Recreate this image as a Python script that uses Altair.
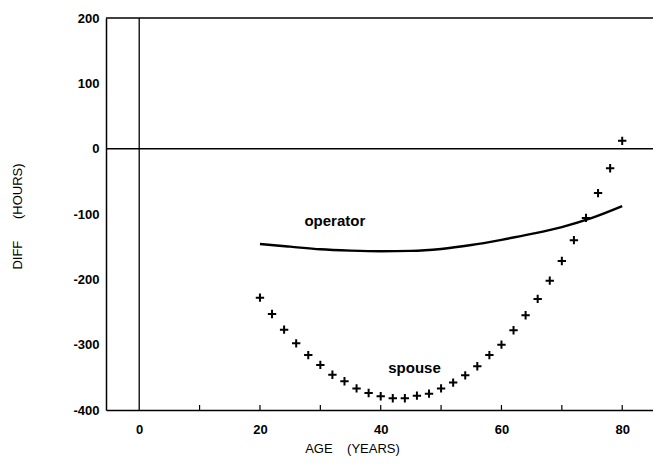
import altair as alt
import pandas as pd

# ---- data ----
spouse_age = list(range(20, 81, 2))
spouse_diff = [-228, -253, -277, -298, -316, -331, -346, -356, -367, -374,
               -379, -382, -382, -378, -375, -367, -358, -347, -333, -316,
               -300, -278, -255, -230, -202, -172, -140, -106, -68, -30, 12]

operator_age = [20, 25, 30, 35, 40, 45, 50, 55, 60, 65, 70, 75, 80]
operator_diff = [-146, -150, -154, -156, -157, -156.5, -153.5, -147.5, -139.5, -130.5, -120, -106, -88]

label_text = ["operator", "spouse"]
label_x = [32.4, 45.6]
label_y = [-110, -335]

x_label_values = [0, 20, 40, 60, 80]
x_tick_values = [10, 20, 30, 40, 50, 60, 70, 80]
y_tick_values = [-400, -300, -200, -100, 0, 100, 200]

X_DOMAIN = [-5.5, 85.1]
Y_DOMAIN = [-400, 200]
W, H = 547, 392
FONT = "Liberation Sans"

spouse_df = pd.DataFrame({"age": spouse_age, "diff": spouse_diff})
op_df = pd.DataFrame({"age": operator_age, "diff": operator_diff})
lab_df = pd.DataFrame({"label": label_text, "age": label_x, "diff": label_y})
ticks_df = pd.DataFrame({"age": x_tick_values})

xs = alt.Scale(domain=X_DOMAIN, nice=False, zero=False)
ys = alt.Scale(domain=Y_DOMAIN, nice=False, zero=False)

x_axis = alt.Axis(
    title="AGE\u00a0\u00a0\u00a0\u00a0(YEARS)", values=x_label_values, ticks=False, grid=False,
    domainColor="black", domainWidth=1.5, labelPadding=13, labelFontSize=13,
    labelFontWeight="bold", labelExpr="'' + datum.value",
    labelFont=FONT, labelColor="black", titleFont=FONT, titleFontSize=13,
    titleFontWeight="normal", titleColor="black", titleX=246, titleY=38,
    titleBaseline="middle", titleAnchor="start", titleAlign="center",
)
y_axis = alt.Axis(
    title="DIFF\u00a0\u00a0\u00a0\u00a0\u00a0\u00a0(HOURS)", values=y_tick_values, ticks=False, grid=False,
    domainColor="black", domainWidth=1.5, labelPadding=7, labelFontSize=13,
    labelFontWeight="bold", labelExpr="'' + datum.value",
    labelFont=FONT, labelColor="black", titleFont=FONT, titleFontSize=13,
    titleFontWeight="normal", titleColor="black", titleX=-89, titleY=198,
    titleAngle=-90, titleBaseline="middle", titleAlign="center", titleAnchor="start",
)

base_x = alt.X("age:Q", scale=xs, axis=x_axis)
base_y = alt.Y("diff:Q", scale=ys, axis=y_axis)

points = alt.Chart(spouse_df).mark_point(
    shape="M-1,0L1,0M0,-1L0,1", size=70, filled=False, color="black",
    strokeWidth=2, opacity=1, clip=False,
).encode(x=base_x, y=base_y)

line = alt.Chart(op_df).mark_line(
    color="black", strokeWidth=2.4, interpolate="monotone",
).encode(x="age:Q", y="diff:Q")

zero_h = alt.Chart(pd.DataFrame({"v": [0]})).mark_rule(
    color="black", strokeWidth=1.5,
).encode(y="v:Q")

top_h = alt.Chart(pd.DataFrame({"v": [Y_DOMAIN[1]]})).mark_rule(
    color="black", strokeWidth=1.5,
).encode(y="v:Q")

zero_v = alt.Chart(pd.DataFrame({"v": [0]})).mark_rule(
    color="black", strokeWidth=1.3,
).encode(x="v:Q")

ticks = alt.Chart(ticks_df).mark_rule(color="black", strokeWidth=1.2).encode(
    x="age:Q", y=alt.value(H), y2=alt.value(H - 5)
)

labels = alt.Chart(lab_df).mark_text(
    font=FONT, fontSize=15, fontWeight="bold", color="black",
    align="center", baseline="middle",
).encode(x="age:Q", y="diff:Q", text="label:N")

chart = alt.layer(points, line, zero_h, top_h, zero_v, ticks, labels).properties(
    width=W, height=H,
    autosize=alt.AutoSizeParams(type="none"),
    padding={"left": 106, "top": 18, "right": 0, "bottom": 56},
    background="white",
).configure_view(stroke=None)

chart.save("out.html", embed_options={"renderer": "svg", "actions": False})
